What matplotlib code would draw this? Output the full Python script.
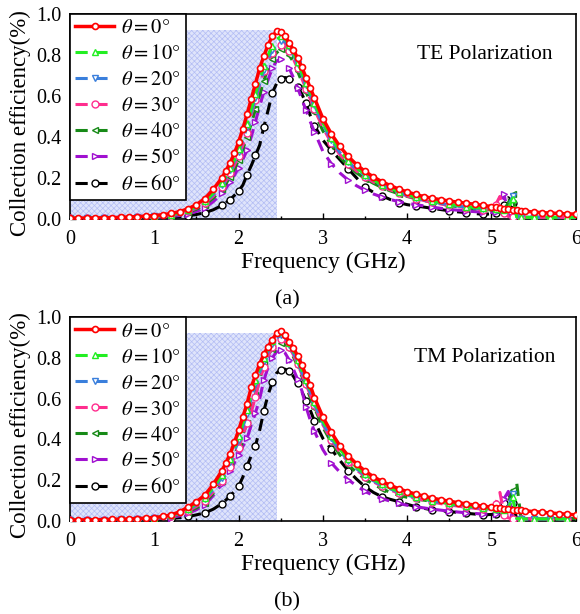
import matplotlib
matplotlib.use("Agg")
import matplotlib.pyplot as plt
from matplotlib.ticker import MultipleLocator

plt.rcParams['font.family'] = ['Liberation Serif', 'DejaVu Serif']
plt.rcParams['mathtext.fontset'] = 'stix'
plt.rcParams['hatch.linewidth'] = 0.5

FREQ = [0.0, 0.1, 0.2, 0.3, 0.4, 0.5, 0.6, 0.7, 0.8, 0.9, 1.0, 1.1, 1.2, 1.3, 1.4, 1.5, 1.6, 1.7, 1.8,
        1.85, 1.9, 1.95, 2.0, 2.05, 2.1, 2.15, 2.2, 2.25, 2.3, 2.35, 2.4, 2.45, 2.5, 2.55, 2.6, 2.65,
        2.7, 2.75, 2.8, 2.85, 2.9,
        3.0, 3.1, 3.2, 3.3, 3.4, 3.5, 3.6, 3.7, 3.8, 3.9, 4.0, 4.1, 4.2, 4.3, 4.4, 4.5, 4.6, 4.7, 4.8,
        4.9, 5.0,
        5.05, 5.1, 5.15, 5.2, 5.25, 5.3, 5.35,
        5.4, 5.5, 5.6, 5.7, 5.8, 5.9, 6.0]

ANGLES = [0, 10, 20, 30, 40, 50, 60]

TE_0 = [.004, .004, .005, .005, .006, .007, .008, .010, .012, .014, .017, .021, .027, .036, .050, .070, .100, .145, .200,
        .235, .275, .32, .375, .44, .51, .585, .66, .735, .795, .85, .89, .915, .91, .89, .86, .825, .785, .74, .69, .64, .59,
        .49, .415, .355, .305, .265, .232, .205, .182, .163, .146, .132, .12, .109, .101, .094, .088, .082, .077, .072, .066, .061,
        .058, .054, .051, .047, .045, .042, .040,
        .038, .034, .031, .029, .027, .025, .024]
TE_10 = [.004, .004, .004, .005, .005, .006, .007, .008, .010, .012, .014, .017, .022, .030, .042, .060, .087, .127, .178,
         .21, .25, .29, .34, .40, .465, .535, .61, .68, .745, .80, .845, .875, .89, .88, .85, .81, .765, .715, .665, .615, .565,
         .47, .395, .335, .285, .248, .217, .19, .168, .15, .134, .118, .106, .096, .087, .079, .072, .066, .061, .056, .052, .048,
         .047, .046, .045, .05, .10, .01, .008,
         .008, .008, .008, .008, .008, .008, .008]
TE_20 = [.004, .004, .004, .005, .005, .006, .007, .008, .009, .011, .013, .016, .021, .028, .040, .057, .083, .120, .168,
         .20, .238, .28, .327, .385, .45, .52, .59, .66, .725, .78, .825, .855, .87, .865, .84, .80, .755, .705, .655, .605, .555,
         .46, .385, .325, .278, .242, .212, .186, .165, .147, .131, .115, .103, .093, .084, .076, .069, .063, .058, .053, .049, .046,
         .045, .044, .045, .06, .11, .01, .008,
         .008, .008, .008, .008, .008, .008, .008]
TE_30 = [.003, .003, .004, .004, .005, .005, .006, .007, .008, .010, .012, .015, .019, .026, .037, .053, .077, .112, .158,
         .187, .222, .262, .307, .36, .42, .51, .58, .65, .72, .77, .81, .835, .85, .845, .82, .78, .735, .685, .635, .585, .535,
         .445, .372, .315, .27, .234, .205, .18, .159, .142, .127, .112, .1, .09, .081, .073, .066, .06, .055, .05, .046, .05,
         .07, .11, .03, .012, .01, .008, .008,
         .008, .008, .008, .008, .008, .008, .008]
TE_40 = [.003, .003, .003, .004, .004, .005, .005, .006, .007, .009, .011, .013, .017, .023, .033, .048, .070, .102, .145,
         .173, .205, .243, .287, .34, .40, .465, .535, .605, .675, .735, .78, .81, .828, .825, .80, .765, .72, .67, .62, .57, .52,
         .43, .36, .303, .26, .225, .197, .174, .154, .137, .123, .11, .099, .09, .081, .073, .066, .06, .055, .05, .047, .044,
         .043, .042, .043, .08, .12, .01, .008,
         .008, .008, .008, .008, .008, .008, .008]
TE_50 = [.002, .002, .003, .003, .003, .004, .004, .005, .006, .007, .008, .010, .013, .017, .025, .037, .055, .085, .125,
         .15, .18, .213, .25, .29, .335, .40, .475, .55, .62, .68, .735, .77, .78, .765, .735, .69, .64, .585, .53, .475, .425,
         .33, .27, .225, .19, .162, .14, .122, .107, .095, .085, .077, .07, .064, .058, .052, .047, .043, .039, .036, .033, .032,
         .035, .06, .12, .02, .01, .008, .008,
         .008, .008, .008, .008, .008, .008, .008]
TE_60 = [.001, .001, .001, .002, .002, .002, .003, .003, .004, .005, .006, .007, .009, .012, .016, .022, .031, .045, .066,
         .08, .095, .115, .137, .165, .215, .26, .31, .36, .45, .53, .615, .66, .683, .69, .685, .672, .645, .61, .565, .505, .455,
         .385, .335, .29, .245, .2, .155, .13, .113, .095, .08, .07, .064, .058, .052, .046, .04, .035, .031, .027, .023, .025,
         .028, .035, .07, .104, .08, .01, .006,
         .006, .006, .006, .006, .006, .006, .006]

TM_0 = [.005, .005, .006, .006, .007, .008, .009, .010, .012, .014, .017, .022, .030, .045, .068, .095, .127, .18, .245,
        .285, .33, .385, .445, .51, .575, .655, .715, .77, .82, .855, .89, .92, .93, .91, .88, .85, .81, .765, .715, .665, .605,
        .51, .435, .37, .32, .28, .245, .217, .194, .175, .158, .144, .132, .122, .112, .104, .097, .09, .084, .078, .073, .068,
        .066, .063, .061, .058, .056, .054, .052,
        .05, .046, .043, .039, .036, .033, .03]
TM_10 = [.004, .004, .005, .005, .006, .007, .008, .009, .011, .013, .016, .020, .027, .040, .060, .085, .115, .165, .225,
         .263, .305, .357, .415, .48, .545, .62, .69, .75, .80, .845, .885, .915, .925, .91, .875, .835, .79, .74, .69, .64, .585,
         .49, .415, .353, .303, .263, .23, .203, .18, .161, .145, .131, .119, .109, .1, .093, .086, .08, .074, .069, .064, .06,
         .058, .056, .055, .06, .12, .012, .01,
         .01, .01, .01, .01, .01, .01, .01]
TM_20 = [.004, .004, .005, .005, .006, .007, .008, .009, .010, .012, .015, .019, .025, .037, .055, .079, .108, .155, .212,
         .248, .29, .34, .395, .46, .525, .60, .67, .73, .785, .83, .87, .898, .91, .90, .865, .825, .78, .73, .68, .63, .575,
         .48, .405, .345, .295, .256, .224, .197, .175, .157, .141, .127, .115, .105, .097, .09, .083, .077, .071, .066, .062, .058,
         .056, .055, .055, .07, .13, .012, .01,
         .01, .01, .01, .01, .01, .01, .01]
TM_30 = [.004, .004, .004, .005, .005, .006, .007, .008, .009, .011, .014, .018, .023, .034, .050, .072, .100, .143, .195,
         .228, .265, .31, .36, .42, .48, .535, .61, .69, .755, .81, .855, .885, .895, .885, .855, .815, .77, .72, .67, .62, .567,
         .472, .398, .338, .29, .25, .218, .192, .17, .152, .136, .123, .111, .101, .093, .085, .079, .073, .067, .062, .058, .06,
         .085, .14, .03, .015, .012, .012, .012,
         .012, .012, .012, .012, .012, .012, .012]
TM_40 = [.003, .003, .004, .004, .005, .006, .006, .007, .009, .011, .013, .017, .022, .032, .046, .064, .090, .135, .195,
         .233, .275, .325, .37, .425, .48, .545, .62, .695, .77, .815, .845, .865, .875, .87, .845, .805, .76, .71, .66, .605, .555,
         .46, .385, .325, .275, .238, .206, .18, .158, .14, .126, .116, .108, .102, .096, .091, .086, .081, .075, .07, .065, .061,
         .06, .059, .06, .09, .15, .185, .012,
         .012, .012, .012, .012, .012, .012, .012]
TM_50 = [.002, .002, .003, .003, .004, .004, .005, .006, .007, .008, .010, .013, .017, .025, .037, .055, .080, .125, .18,
         .21, .245, .285, .325, .365, .405, .47, .53, .60, .69, .755, .80, .83, .84, .825, .79, .745, .695, .64, .56, .495, .44,
         .35, .285, .24, .203, .172, .145, .125, .11, .097, .086, .077, .07, .064, .058, .053, .048, .044, .04, .037, .034, .033,
         .034, .05, .11, .145, .02, .01, .01,
         .01, .01, .01, .01, .01, .01, .01]
TM_60 = [.001, .001, .002, .002, .002, .003, .003, .004, .005, .006, .007, .009, .012, .016, .022, .030, .040, .058, .085,
         .103, .123, .145, .17, .215, .27, .32, .37, .445, .54, .62, .68, .725, .742, .745, .735, .71, .675, .635, .59, .544, .49,
         .405, .352, .298, .247, .205, .168, .14, .119, .106, .095, .082, .07, .062, .054, .05, .046, .042, .038, .034, .03, .032,
         .035, .045, .09, .137, .09, .008, .008,
         .008, .008, .008, .008, .008, .008, .008]

TE_SERIES = [TE_0, TE_10, TE_20, TE_30, TE_40, TE_50, TE_60]
TM_SERIES = [TM_0, TM_10, TM_20, TM_30, TM_40, TM_50, TM_60]

SHADE_END = 2.45
SHADE_TOP = 0.92

COLORS = ['#ff0000', '#22ee22', '#3a7fdc', '#ff2d8e', '#178a17', '#a010d0', '#000000']
MARKERS = ['o', '^', 'v', 'o', '<', '>', 'o']

fig = plt.figure(figsize=(5.8, 6.14), dpi=100)
ax_top = fig.add_axes([0.1207, 0.6433, 0.872, 0.334])
ax_bot = fig.add_axes([0.1207, 0.1515, 0.872, 0.332])

def draw(ax, series, title, panel):
    ax.fill_between([0, SHADE_END], 0, SHADE_TOP, facecolor='#dfe4fb', edgecolor='#b3bdf4',
                    hatch='xxxxxx', linewidth=0, zorder=0)
    for i in range(len(ANGLES) - 1, -1, -1):
        lab = r'$\theta = %d°$' % ANGLES[i]
        if i == 0:
            ax.plot(FREQ, series[i], color=COLORS[i], lw=2.5, ls='-', marker=MARKERS[i],
                    ms=4.3, mfc='white', mec=COLORS[i], mew=1.2, zorder=10, label=lab)
        else:
            ax.plot(FREQ, series[i], color=COLORS[i], lw=2.2, ls=(0, (4, 2.5)), marker=MARKERS[i],
                    ms=5, mfc='white', mec=COLORS[i], mew=1.0, markevery=2, zorder=3 + (7 - i),
                    label=lab)
    h, l = ax.get_legend_handles_labels()
    leg = ax.legend(h[::-1], l[::-1], loc='upper left', fontsize=14.8, frameon=True, fancybox=False,
                    edgecolor='black', framealpha=1, borderaxespad=0, borderpad=0.25,
                    labelspacing=0.32, handlelength=1.9, handletextpad=0.35)
    leg.get_frame().set_linewidth(1.2)
    leg.set_zorder(20)
    ax.set_xlim(0, 6)
    ax.set_ylim(0, 1.0)
    ax.xaxis.set_major_locator(MultipleLocator(1))
    ax.xaxis.set_minor_locator(MultipleLocator(0.5))
    ax.yaxis.set_major_locator(MultipleLocator(0.2))
    ax.yaxis.set_minor_locator(MultipleLocator(0.1))
    ax.yaxis.set_major_formatter(matplotlib.ticker.FormatStrFormatter('%.1f'))
    ax.tick_params(which='both', direction='in', labelsize=14.5, top=False, right=False)
    ax.tick_params(axis='x', which='major', pad=8)
    ax.tick_params(axis='y', which='major', pad=6)
    ax.tick_params(which='major', length=4, width=1)
    ax.tick_params(which='minor', length=2, width=1)
    for s in ax.spines.values():
        s.set_linewidth(1.2)
    ax.set_xlabel('Frequency (GHz)', fontsize=16.8, labelpad=2)
    ax.set_ylabel('Collection efficiency(%)', fontsize=16.5, labelpad=1)
    ax.yaxis.set_label_coords(-0.078, 0.47)
    ax.text(0.82, 0.80, title, transform=ax.transAxes, fontsize=15.5, ha='center', va='center')
    ax.text(0.43, -0.395, panel, transform=ax.transAxes, fontsize=16, ha='center', va='center')

draw(ax_top, TE_SERIES, 'TE Polarization', '(a)')
draw(ax_bot, TM_SERIES, 'TM Polarization', '(b)')

fig.savefig('out.png', dpi=100)
